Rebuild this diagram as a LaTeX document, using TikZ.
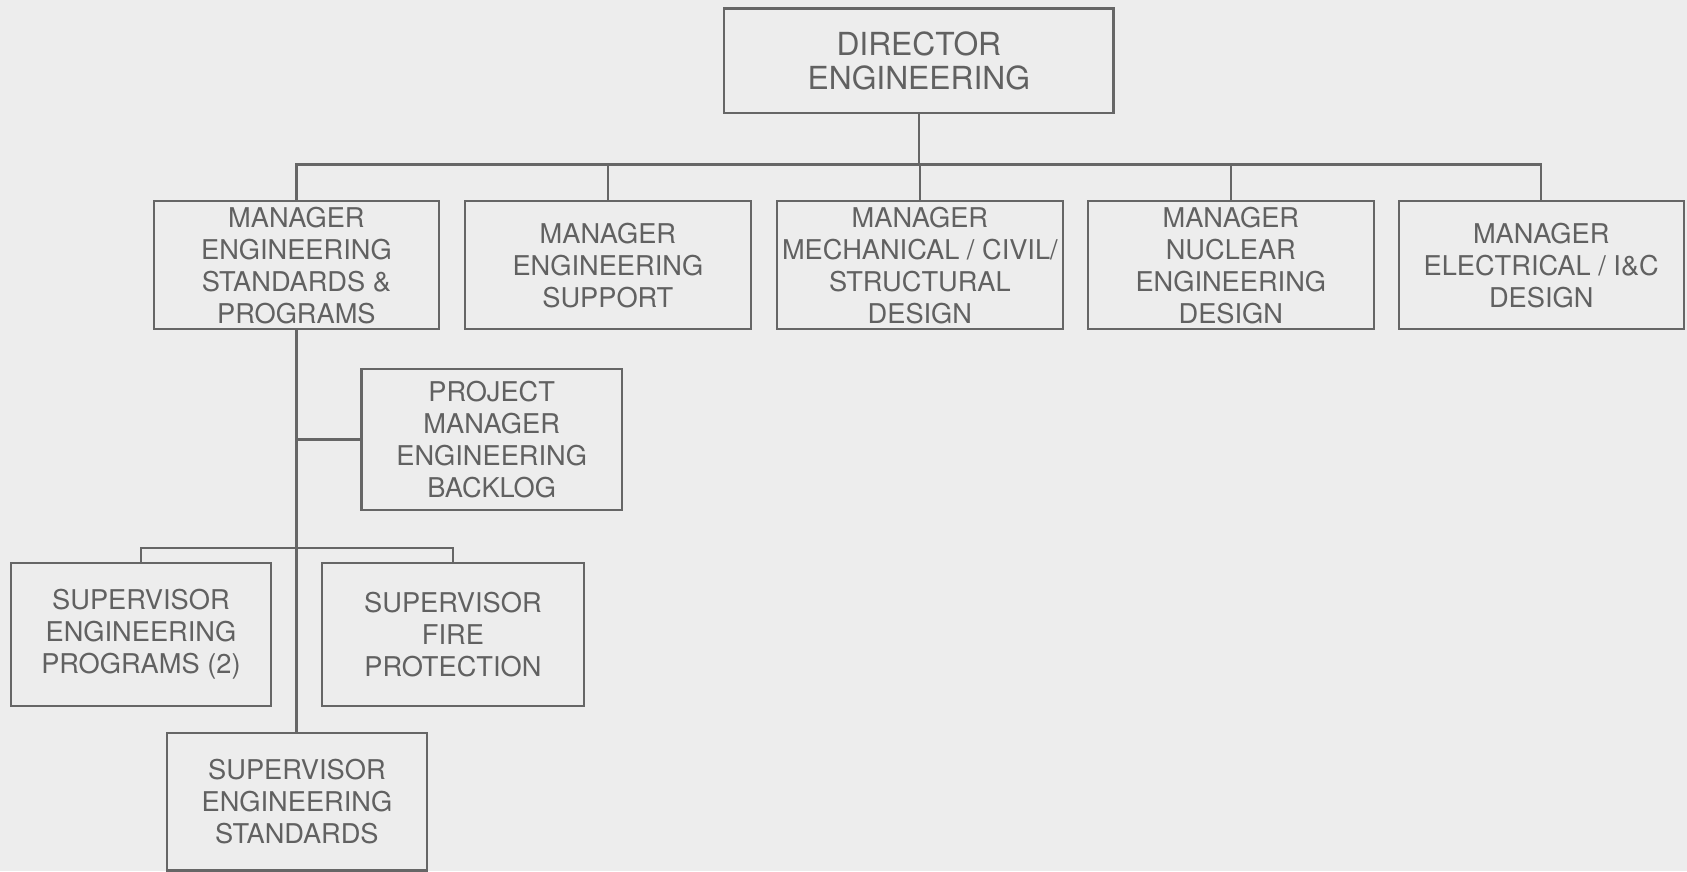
\documentclass[tikz,border=0pt]{standalone}
\usepackage{fontspec}
\setmainfont{TeX Gyre Heros}
\begin{document}
\begin{tikzpicture}[x=0.1mm,y=-0.1mm,line width=0.6pt,
  box/.style={draw=black!60,text=black!62,align=center,inner sep=0pt,
    font=\fontsize{7.2}{8.45}\selectfont},
  link/.style={draw=black!60}]
% Hintergrund und Rahmen des Bildes
\fill[black!7] (0,0) rectangle (1568,810);
\useasboundingbox (0,0) rectangle (1568,810);
% Leitung
\node[box,minimum width=3.62cm,minimum height=0.97cm,
  font=\fontsize{8.4}{9.1}\selectfont] (dir) at (854,56.5) {DIRECTOR\\ENGINEERING};
% Abteilungsleiter
\node[box,minimum width=2.65cm,minimum height=1.19cm] (stdprog) at (275.5,246.5)
  {MANAGER\\ENGINEERING\\STANDARDS \&\\PROGRAMS};
\node[box,minimum width=2.66cm,minimum height=1.19cm] (support) at (565,246.5)
  {MANAGER\\ENGINEERING\\SUPPORT};
\node[box,minimum width=2.66cm,minimum height=1.19cm] (mcs) at (855,246.5)
  {MANAGER\\MECHANICAL / CIVIL/\\STRUCTURAL\\DESIGN};
\node[box,minimum width=2.66cm,minimum height=1.19cm] (nuclear) at (1144,246.5)
  {MANAGER\\NUCLEAR\\ENGINEERING\\DESIGN};
\node[box,minimum width=2.65cm,minimum height=1.19cm] (elec) at (1432.5,246.5)
  {MANAGER\\ELECTRICAL / I\&C\\DESIGN};
% unterstellte Stellen
\node[box,minimum width=2.42cm,minimum height=1.31cm] (backlog) at (457,408.5)
  {PROJECT\\MANAGER\\ENGINEERING\\BACKLOG};
\node[box,minimum width=2.42cm,minimum height=1.33cm] (supprog) at (131,589.5)
  {SUPERVISOR\\ENGINEERING\\PROGRAMS (2)};
\node[box,minimum width=2.44cm,minimum height=1.33cm] (supfire) at (421,589.5)
  {SUPERVISOR\\FIRE\\PROTECTION};
\node[box,minimum width=2.42cm,minimum height=1.28cm] (supstd) at (276,745)
  {SUPERVISOR\\ENGINEERING\\STANDARDS};
% Verbindungen
\coordinate (bus) at (0,153);
\coordinate (subbus) at (0,509);
\draw[link] (dir.south) -- (dir.south |- bus);
\draw[link] (stdprog.north) -- (stdprog.north |- bus) -- (elec.north |- bus) -- (elec.north);
\foreach \m in {support,mcs,nuclear}
  \draw[link] (\m.north) -- (\m.north |- bus);
\draw[link] (stdprog.south) -- (stdprog.south |- supstd.north);
\draw[link] (backlog.west) -- (backlog.west -| stdprog.south);
\draw[link] (supprog.north) -- (supprog.north |- subbus) -- (supfire.north |- subbus) -- (supfire.north);
\end{tikzpicture}
\end{document}
